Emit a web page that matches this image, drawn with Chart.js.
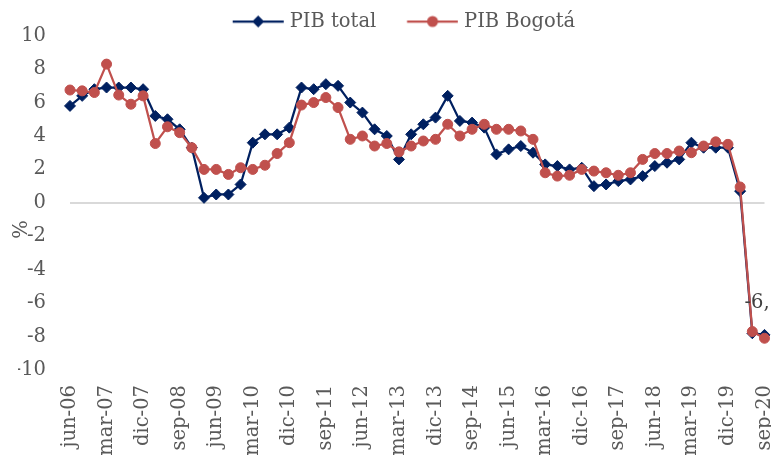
<!DOCTYPE html>
<html>
<head>
<meta charset="utf-8">
<script src="https://cdn.jsdelivr.net/npm/chart.js@4.4.0/dist/chart.umd.min.js"></script>
<style>
    html, body { margin: 0; padding: 0; background: #ffffff; overflow: hidden; }
    #wrap { width: 771px; height: 455px; }
</style>
</head>
<body>
<div id="wrap"><canvas id="myChart" width="771" height="455"></canvas></div>
<script>
const labels = [
    'jun-06', 'sep-06', 'dic-06',
    'mar-07', 'jun-07', 'sep-07', 'dic-07',
    'mar-08', 'jun-08', 'sep-08', 'dic-08',
    'mar-09', 'jun-09', 'sep-09', 'dic-09',
    'mar-10', 'jun-10', 'sep-10', 'dic-10',
    'mar-11', 'jun-11', 'sep-11', 'dic-11',
    'mar-12', 'jun-12', 'sep-12', 'dic-12',
    'mar-13', 'jun-13', 'sep-13', 'dic-13',
    'mar-14', 'jun-14', 'sep-14', 'dic-14',
    'mar-15', 'jun-15', 'sep-15', 'dic-15',
    'mar-16', 'jun-16', 'sep-16', 'dic-16',
    'mar-17', 'jun-17', 'sep-17', 'dic-17',
    'mar-18', 'jun-18', 'sep-18', 'dic-18',
    'mar-19', 'jun-19', 'sep-19', 'dic-19',
    'mar-20', 'jun-20', 'sep-20',
];

const pibTotal = [
    5.8, 6.4, 6.8, 6.9, 6.9, 6.9, 6.8, 5.2, 5.0, 4.4,
    3.3, 0.3, 0.5, 0.5, 1.1, 3.6, 4.1, 4.1, 4.5, 6.9,
    6.8, 7.1, 7.0, 6.0, 5.4, 4.4, 4.0, 2.6, 4.1, 4.7,
    5.1, 6.4, 4.9, 4.8, 4.5, 2.9, 3.2, 3.4, 3.0, 2.3,
    2.2, 2.0, 2.1, 1.0, 1.1, 1.3, 1.4, 1.6, 2.2, 2.4,
    2.6, 3.6, 3.3, 3.3, 3.3, 0.7, -7.8, -7.9,
];

const pibBogota = [
    6.75, 6.7, 6.6, 8.3, 6.45, 5.9, 6.4, 3.55, 4.55, 4.2,
    3.3, 2.0, 2.0, 1.7, 2.1, 2.0, 2.25, 2.95, 3.6, 5.85,
    6.0, 6.3, 5.7, 3.8, 4.0, 3.4, 3.55, 3.05, 3.4, 3.7,
    3.8, 4.7, 4.0, 4.4, 4.7, 4.4, 4.4, 4.3, 3.8, 1.8,
    1.6, 1.65, 2.0, 1.9, 1.8, 1.65, 1.8, 2.6, 2.95, 2.95,
    3.1, 3.0, 3.4, 3.65, 3.5, 0.95, -7.7, -8.1,
];

const yTicks = [-10, -8, -6, -4, -2, 0, 2, 4, 6, 8, 10];
const endLabel = '-6,8';

const blue = '#002060';
const red = '#C0504D';
const grey = '#595959';
const fontFamily = '"DejaVu Serif", "Liberation Serif", serif';
const fontSize = 19.5;

// legend swatch: line with marker in the middle
function legendSwatch(color, shape) {
    const c = document.createElement('canvas');
    c.width = 78;
    c.height = 14;
    const g = c.getContext('2d');
    g.strokeStyle = color;
    g.fillStyle = color;
    g.lineWidth = 2.25;
    g.beginPath();
    g.moveTo(26.75, 7);
    g.lineTo(77.75, 7);
    g.stroke();
    g.beginPath();
    if (shape === 'diamond') {
        g.moveTo(52.25, 1);
        g.lineTo(58.25, 7);
        g.lineTo(52.25, 13);
        g.lineTo(46.25, 7);
        g.closePath();
    } else {
        g.arc(52.25, 7, 5.5, 0, Math.PI * 2);
    }
    g.fill();
    return c;
}

const percentTitle = {
    id: 'percentTitle',
    afterDraw(chart) {
        const {ctx, scales: {x, y}} = chart;
        ctx.save();
        ctx.font = fontSize + 'px ' + fontFamily;
        ctx.fillStyle = grey;
        ctx.textAlign = 'center';
        ctx.textBaseline = 'middle';
        ctx.translate(22, y.getPixelForValue(-1.6));
        ctx.rotate(-Math.PI / 2);
        ctx.fillText('%', 0, 0);
        ctx.restore();

        // data label at the end, cut by the border like the original
        ctx.save();
        ctx.font = fontSize + 'px ' + fontFamily;
        ctx.fillStyle = '#404040';
        ctx.textAlign = 'left';
        ctx.textBaseline = 'middle';
        ctx.fillText(endLabel, x.getPixelForValue(labels.length - 1) - 20, y.getPixelForValue(-6));
        ctx.restore();
    },
};

const ctx = document.getElementById('myChart').getContext('2d');

const myChart = new Chart(ctx, {
    type: 'line',
    data: {
        labels: labels,
        datasets: [
            {
                label: 'PIB total',
                data: pibTotal,
                borderColor: blue,
                backgroundColor: blue,
                borderWidth: 2.25,
                pointStyle: 'rectRot',
                pointRadius: 5.5,
                pointBorderWidth: 1,
                pointBackgroundColor: blue,
                pointBorderColor: blue,
                tension: 0,
                clip: false,
                order: 2,
            },
            {
                label: 'PIB Bogotá',
                data: pibBogota,
                borderColor: red,
                backgroundColor: red,
                borderWidth: 2.25,
                pointStyle: 'circle',
                pointRadius: 5,
                pointBorderWidth: 1,
                pointBackgroundColor: red,
                pointBorderColor: red,
                tension: 0,
                clip: false,
                order: 1,
            },
        ],
    },
    options: {
        responsive: false,
        devicePixelRatio: 1,
        animation: false,
        layout: {
            padding: { left: 18, right: 4, top: 0, bottom: 0 },
        },
        plugins: {
            legend: {
                position: 'top',
                reverse: true,
                maxHeight: 32,
                labels: {
                    usePointStyle: true,
                    pointStyleWidth: 70,
                    padding: 8,
                    color: grey,
                    font: { family: fontFamily, size: fontSize },
                    generateLabels: (chart) => {
                        const items = Chart.defaults.plugins.legend.labels.generateLabels(chart);
                        items.forEach(item => {
                            const ds = chart.data.datasets[item.datasetIndex];
                            item.pointStyle = legendSwatch(ds.borderColor, ds.pointStyle === 'rectRot' ? 'diamond' : 'circle');
                        });
                        return items;
                    },
                },
            },
            tooltip: { enabled: false },
        },
        scales: {
            x: {
                grid: { display: false, drawTicks: false },
                border: { display: false },
                ticks: {
                    autoSkip: false,
                    maxRotation: 90,
                    minRotation: 90,
                    padding: 15,
                    color: grey,
                    font: { family: fontFamily, size: fontSize },
                    callback: (value, index) => (index % 3 === 0 ? labels[index] : ''),
                },
                afterFit: (scale) => {
                    scale.height = 85;
                    scale.paddingLeft = 0;
                    scale.paddingRight = 0;
                },
            },
            y: {
                min: -10,
                max: 10,
                afterBuildTicks: (scale) => {
                    scale.ticks = yTicks.map(v => ({ value: v }));
                },
                grid: {
                    drawTicks: false,
                    color: (c) => (c.tick && c.tick.value === 0 ? '#d9d9d9' : 'transparent'),
                    lineWidth: 2,
                },
                border: { display: false },
                ticks: {
                    padding: 24,
                    color: grey,
                    font: { family: fontFamily, size: fontSize },
                },
                afterFit: (scale) => {
                    scale.width = 52;
                },
            },
        },
    },
    plugins: [percentTitle],
});
</script>
</body>
</html>
